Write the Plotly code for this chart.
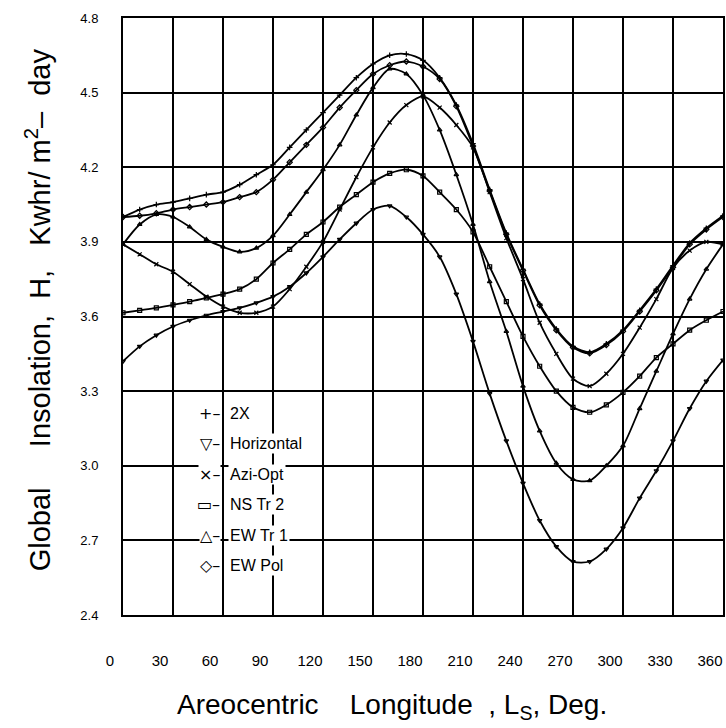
import plotly.graph_objects as go

# Areocentric longitude (deg)
ls = list(range(0, 361, 10))

# Global insolation values (Kwhr/m^2-day)
h_2x = [4.00, 4.03, 4.05, 4.06, 4.075, 4.09, 4.10, 4.13, 4.17, 4.21,
        4.28, 4.35, 4.42, 4.49, 4.56, 4.615, 4.65, 4.655, 4.63, 4.56,
        4.45, 4.295, 4.11, 3.935, 3.79, 3.65, 3.55, 3.48, 3.456, 3.49,
        3.545, 3.625, 3.71, 3.805, 3.895, 3.955, 4.005]
h_ew_pol = [4.00, 4.005, 4.015, 4.03, 4.04, 4.05, 4.06, 4.08, 4.10, 4.15,
            4.22, 4.29, 4.36, 4.44, 4.51, 4.575, 4.61, 4.625, 4.605, 4.555,
            4.445, 4.285, 4.105, 3.93, 3.785, 3.645, 3.545, 3.475, 3.452, 3.485,
            3.54, 3.62, 3.705, 3.798, 3.89, 3.95, 4.00]
h_ew_tr1 = [3.89, 3.97, 4.01, 4.00, 3.96, 3.91, 3.88, 3.86, 3.875, 3.925,
            4.01, 4.10, 4.19, 4.29, 4.41, 4.52, 4.595, 4.575, 4.49, 4.35,
            4.17, 3.97, 3.74, 3.54, 3.32, 3.14, 3.01, 2.945, 2.94, 3.00,
            3.08, 3.23, 3.38, 3.53, 3.67, 3.79, 3.89]
h_azi_opt = [3.89, 3.85, 3.81, 3.78, 3.73, 3.68, 3.64, 3.615, 3.615, 3.64,
             3.71, 3.80, 3.90, 4.03, 4.16, 4.28, 4.38, 4.45, 4.485, 4.44,
             4.37, 4.28, 4.10, 3.915, 3.75, 3.575, 3.45, 3.35, 3.32, 3.37,
             3.45, 3.555, 3.67, 3.795, 3.865, 3.90, 3.89]
h_ns_tr2 = [3.615, 3.625, 3.635, 3.647, 3.66, 3.675, 3.69, 3.71, 3.75, 3.815,
            3.87, 3.93, 3.98, 4.04, 4.09, 4.14, 4.175, 4.19, 4.165, 4.10,
            4.03, 3.94, 3.80, 3.66, 3.52, 3.40, 3.30, 3.235, 3.215, 3.245,
            3.295, 3.36, 3.435, 3.49, 3.545, 3.585, 3.62]
h_horizontal = [3.42, 3.48, 3.525, 3.56, 3.585, 3.605, 3.62, 3.635, 3.655, 3.68,
                3.72, 3.775, 3.84, 3.91, 3.975, 4.03, 4.045, 4.00, 3.93, 3.84,
                3.69, 3.50, 3.29, 3.10, 2.93, 2.78, 2.675, 2.615, 2.615, 2.665,
                2.75, 2.87, 2.98, 3.10, 3.23, 3.34, 3.425]

series_names = ["2X", "Horizontal", "Azi-Opt", "NS Tr 2", "EW Tr 1", "EW Pol"]
series_values = [h_2x, h_horizontal, h_azi_opt, h_ns_tr2, h_ew_tr1, h_ew_pol]
marker_symbols = ["cross-thin-open", "triangle-down-open", "x-thin-open",
                  "square-open", "triangle-up-open", "diamond-open"]
legend_glyphs = ["+", "\u25bd", "\u00d7", "\u25ad", "\u25b3", "\u25c7"]

x_ticks = list(range(0, 361, 30))
y_ticks = [2.4, 2.7, 3.0, 3.3, 3.6, 3.9, 4.2, 4.5, 4.8]

FONT = "Liberation Sans, Arial, sans-serif"

fig = go.Figure()
for name, vals, sym in zip(series_names, series_values, marker_symbols):
    fig.add_trace(go.Scatter(
        x=ls, y=vals, name=name, mode="lines+markers",
        line=dict(color="black", width=1.8, shape="spline", smoothing=0.8),
        marker=dict(symbol=sym, size=4, color="black",
                    line=dict(color="black", width=1.2)),
        showlegend=False))

# pixel -> data helpers for legend placement
L, R, T, B = 123, 725, 18, 615
def px_x(p):
    return (p - L) / (R - L) * 360.0
def px_y(p):
    return 4.8 - (p - T) / (B - T) * 2.4

annotations = []
row_px = [413, 443, 474, 504, 535, 565]
for glyph, name, py in zip(legend_glyphs, series_names, row_px):
    annotations.append(dict(
        x=px_x(221), y=px_y(py), xref="x", yref="y", xanchor="right", yanchor="middle",
        text=glyph + "\u2013", showarrow=False, bgcolor="white", borderpad=0,
        font=dict(family="DejaVu Sans", size=16, color="black")))
    annotations.append(dict(
        x=px_x(228), y=px_y(py), xref="x", yref="y", xanchor="left", yanchor="middle",
        text=name, showarrow=False, bgcolor="white", borderpad=1,
        font=dict(family=FONT, size=16, color="black")))

annotations.append(dict(
    text="Global     Insolation,  H,   Kwhr/ m<sup>2</sup>\u2013  day",
    textangle=-90, xref="paper", yref="paper",
    x=(38 - L) / (R - L), y=(B - 310) / (B - T),
    xanchor="center", yanchor="middle", showarrow=False,
    font=dict(family=FONT, size=29, color="black")))
annotations.append(dict(
    text="Areocentric    Longitude  , L<sub>S</sub>, Deg.",
    xref="paper", yref="paper",
    x=(393 - L) / (R - L), y=(B - 706) / (B - T),
    xanchor="center", yanchor="middle", showarrow=False,
    font=dict(family=FONT, size=28, color="black")))

fig.update_layout(
    width=726, height=728,
    margin=dict(l=L, r=726 - R, t=T, b=728 - B),
    paper_bgcolor="white", plot_bgcolor="white",
    annotations=annotations,
    xaxis=dict(range=[0, 360], tickvals=x_ticks, showgrid=True,
               gridcolor="black", gridwidth=1.7, zeroline=False,
               showline=True, linecolor="black", linewidth=2, mirror=True,
               ticks="", ticklabelshift=-13, ticklabelstandoff=31,
               tickfont=dict(family=FONT, size=15, color="black")),
    yaxis=dict(range=[2.4, 4.8], tickvals=y_ticks, tickformat=".1f",
               showgrid=True, gridcolor="black", gridwidth=1.7, zeroline=False,
               showline=True, linecolor="black", linewidth=2, mirror=True,
               ticks="", ticklabelstandoff=20,
               tickfont=dict(family=FONT, size=13, color="black")),
)

fig.write_html("out.html")
